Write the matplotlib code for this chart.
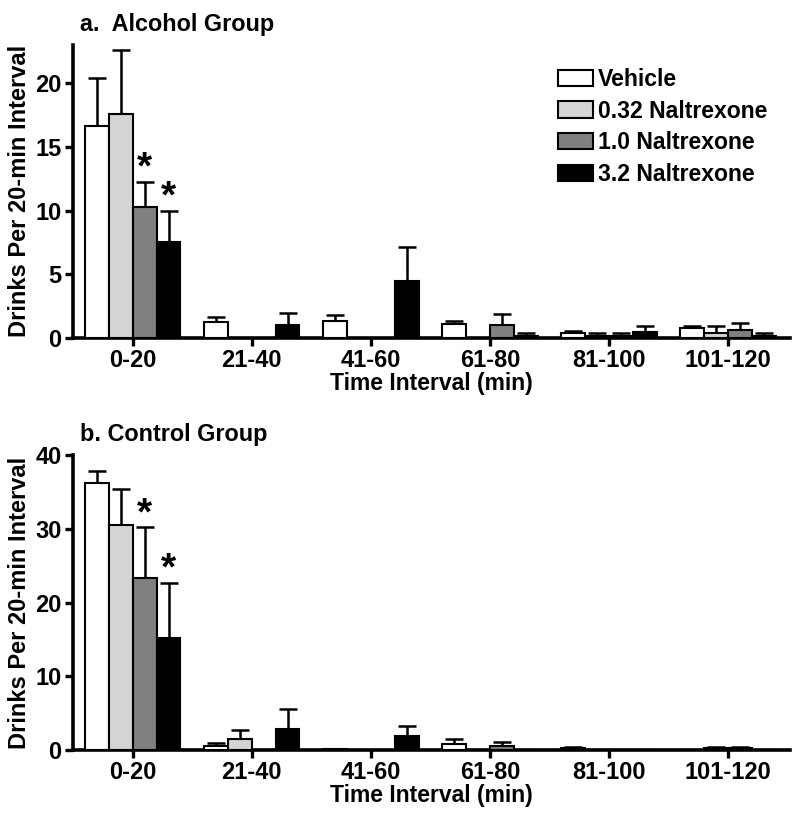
import numpy as np
import matplotlib
matplotlib.use("Agg")
import matplotlib.pyplot as plt

plt.rcParams["font.family"] = ["Liberation Sans", "DejaVu Sans"]
plt.rcParams["font.weight"] = "bold"

intervals = ["0-20", "21-40", "41-60", "61-80", "81-100", "101-120"]
groups = ["Vehicle", "0.32 Naltrexone", "1.0 Naltrexone", "3.2 Naltrexone"]
colors = ["white", "#d4d4d4", "#808080", "black"]

# Alcohol group: means and SEM (upper bars only)
alc_mean = [
    [16.6, 1.25, 1.3, 1.05, 0.37, 0.76],
    [17.55, 0.0, 0.0, 0.0, 0.18, 0.37],
    [10.3, 0.0, 0.0, 0.97, 0.18, 0.63],
    [7.5, 1.0, 4.5, 0.18, 0.45, 0.18],
]
alc_err = [
    [3.8, 0.35, 0.5, 0.31, 0.18, 0.19],
    [5.05, 0.0, 0.0, 0.0, 0.22, 0.58],
    [1.96, 0.0, 0.0, 0.93, 0.22, 0.52],
    [2.5, 0.95, 2.6, 0.22, 0.5, 0.22],
]
alc_sig = [(2, 0), (3, 0)]

# Control group
ctl_mean = [
    [36.2, 0.6, 0.1, 0.87, 0.3, 0.0],
    [30.5, 1.55, 0.0, 0.0, 0.0, 0.3],
    [23.4, 0.0, 0.0, 0.6, 0.0, 0.3],
    [15.2, 2.87, 1.87, 0.0, 0.0, 0.0],
]
ctl_err = [
    [1.7, 0.36, 0.0, 0.63, 0.15, 0.0],
    [4.9, 1.15, 0.0, 0.0, 0.0, 0.15],
    [6.8, 0.0, 0.0, 0.45, 0.0, 0.15],
    [7.5, 2.63, 1.36, 0.0, 0.0, 0.0],
]
ctl_sig = [(2, 0), (3, 0)]

fig = plt.figure(figsize=(8, 8.26), dpi=100)
ax_a = fig.add_axes([0.091, 0.591, 0.8965, 0.3545])
ax_b = fig.add_axes([0.091, 0.092, 0.8965, 0.357])

x = np.arange(len(intervals))
width = 0.2
offsets = [-0.3, -0.1, 0.1, 0.3]


def draw_panel(ax, means, errs, sig, ylim, yticks, title, legend=False):
    for i, g in enumerate(groups):
        ax.bar(x + offsets[i], means[i], width, color=colors[i],
               edgecolor="black", linewidth=1.5, label=g, zorder=3)
        ax.errorbar(x + offsets[i], means[i], yerr=[np.zeros(len(x)), errs[i]],
                    fmt="none", ecolor="black", elinewidth=1.8, capsize=6.5,
                    capthick=1.8, zorder=2)
    for gi, xi in sig:
        top = means[gi][xi] + errs[gi][xi]
        ax.annotate("*", (x[xi] + offsets[gi], top), xytext=(0, -3.5),
                    textcoords="offset points", ha="center", va="bottom",
                    fontsize=28, fontweight="bold")
    ax.set_xlim(-0.504, 5.52)
    ax.set_ylim(*ylim)
    ax.set_yticks(yticks)
    ax.set_xticks(x)
    ax.set_xticklabels(intervals)
    for s in ["top", "right"]:
        ax.spines[s].set_visible(False)
    for s in ["left", "bottom"]:
        ax.spines[s].set_linewidth(2.6)
    ax.tick_params(axis="both", width=2.4, length=6, labelsize=17, pad=2)
    for lab in ax.get_xticklabels() + ax.get_yticklabels():
        lab.set_fontweight("bold")
    ax.set_xlabel("Time Interval (min)", fontsize=16.5, fontweight="bold", labelpad=0)
    ax.set_ylabel("Drinks Per 20-min Interval", fontsize=17, fontweight="bold")
    ax.yaxis.set_label_coords(-0.058, 0.5)
    ax.set_title(title, loc="left", fontsize=16.8, fontweight="bold", x=0.01, pad=10)
    if legend:
        ax.legend(loc="upper left", bbox_to_anchor=(0.676, 0.922), frameon=False,
                  borderpad=0, borderaxespad=0,
                  handlelength=1.55, handleheight=0.7,
                  handletextpad=0.2, labelspacing=0.38,
                  prop={"weight": "bold", "size": 16.6})


draw_panel(ax_a, alc_mean, alc_err, alc_sig, (0, 23), [0, 5, 10, 15, 20],
           "a.  Alcohol Group", legend=True)
draw_panel(ax_b, ctl_mean, ctl_err, ctl_sig, (0, 40), [0, 10, 20, 30, 40],
           "b. Control Group")

fig.savefig("out.png", dpi=100)
